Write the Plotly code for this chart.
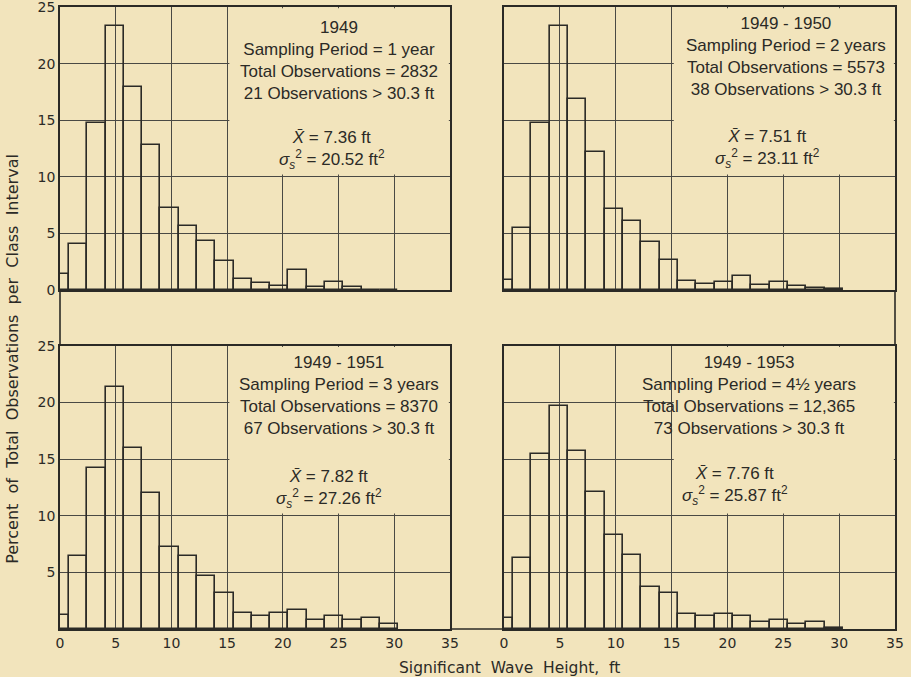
import plotly.graph_objects as go

# Class-interval edges (ft) — 0.5 m classes
edges = [0, 0.82, 2.46, 4.10, 5.74, 7.38, 9.02, 10.66, 12.30, 13.94, 15.58,
         17.22, 18.86, 20.50, 22.15, 23.79, 25.43, 27.07, 28.71, 30.35]

pct_1949 = [1.38, 4.03, 14.76, 23.3, 17.94, 12.82, 7.24, 5.65, 4.35, 2.59,
            0.97, 0.59, 0.38, 1.76, 0.29, 0.70, 0.29, 0.0, 0.0]
pct_1949_50 = [0.88, 5.44, 14.76, 23.3, 16.88, 12.15, 7.18, 6.12, 4.24, 2.62,
               0.79, 0.56, 0.68, 1.26, 0.44, 0.68, 0.35, 0.20, 0.10]
pct_1949_51 = [1.24, 6.45, 14.25, 21.4, 16.0, 12.0, 7.24, 6.48, 4.68, 3.18,
               1.41, 1.18, 1.38, 1.68, 0.82, 1.12, 0.77, 0.94, 0.41]
pct_1949_53 = [1.0, 6.27, 15.49, 19.73, 15.7, 12.07, 8.27, 6.5, 3.74, 3.21,
               1.35, 1.15, 1.35, 1.18, 0.65, 0.82, 0.47, 0.65, 0.12]

x_ticks = [0, 5, 10, 15, 20, 25, 30, 35]
y_ticks = [0, 5, 10, 15, 20, 25]

block1 = [
    "1949<br>Sampling Period = 1 year<br>Total Observations = 2832<br>21 Observations > 30.3 ft",
    "1949 - 1950<br>Sampling Period = 2 years<br>Total Observations = 5573<br>38 Observations > 30.3 ft",
    "1949 - 1951<br>Sampling Period = 3 years<br>Total Observations = 8370<br>67 Observations > 30.3 ft",
    "1949 - 1953<br>Sampling Period = 4½ years<br>Total Observations = 12,365<br>73 Observations > 30.3 ft",
]
means = ["7.36", "7.51", "7.82", "7.76"]
variances = ["20.52", "23.11", "27.26", "25.87"]

BG = "#F2E4BC"
INK = "#2b2a26"
GRID = "#4a4944"

series = [pct_1949, pct_1949_50, pct_1949_51, pct_1949_53]
centers = [(a + b) / 2 for a, b in zip(edges[:-1], edges[1:])]
widths = [b - a for a, b in zip(edges[:-1], edges[1:])]

xdom = [[0.0, 0.467], [0.5317, 1.0]]
ydom = [[0.545, 1.0], [0.0, 0.455]]

fig = go.Figure()
tick_font = dict(family="DejaVu Sans", size=14, color=INK)
text_font = dict(family="Liberation Sans, Arial, sans-serif", size=17, color=INK)

b1_pos = [(25.0, 20.3), (25.2, 20.6), (25.0, 20.6), (21.9, 20.6)]
b2_pos = [(24.4, 12.4), (23.6, 12.5), (24.1, 12.4), (20.7, 12.6)]

for i in range(4):
    r, c = divmod(i, 2)
    n = i + 1
    xa = "x" if n == 1 else f"x{n}"
    ya = "y" if n == 1 else f"y{n}"
    xkey = "xaxis" if n == 1 else f"xaxis{n}"
    ykey = "yaxis" if n == 1 else f"yaxis{n}"
    fig.add_trace(go.Bar(x=centers, y=series[i], width=widths,
                         marker=dict(color="rgba(0,0,0,0)",
                                     line=dict(color=INK, width=1.6)),
                         xaxis=xa, yaxis=ya, showlegend=False, hoverinfo="skip"))
    fig.layout[xkey] = dict(domain=xdom[c], range=[0, 35], anchor=ya,
                            tickvals=x_ticks, showticklabels=(r == 1),
                            tickfont=tick_font, ticks="", automargin=False,
                            ticklabeloverflow="allow",
                            showgrid=True, gridcolor=GRID, gridwidth=1,
                            showline=True, linecolor=INK, linewidth=1.6, mirror=True,
                            zeroline=False, fixedrange=True)
    yt = y_ticks if r == 0 else y_ticks[1:]
    fig.layout[ykey] = dict(domain=ydom[r], range=[0, 25], anchor=xa,
                            tickvals=yt, showticklabels=(c == 0),
                            tickfont=tick_font, ticks="", automargin=False,
                            ticklabeloverflow="allow",
                            showgrid=True, gridcolor=GRID, gridwidth=1,
                            showline=True, linecolor=INK, linewidth=1.6, mirror=True,
                            zeroline=False, fixedrange=True)
    # blank the grid behind the text block
    fig.add_shape(type="rect", xref=xa, yref=ya, x0=15.2, x1=34.9, y0=10.2, y1=24.9,
                  fillcolor=BG, line=dict(width=0), layer="between")
    fig.add_annotation(xref=xa, yref=ya, x=b1_pos[i][0], y=b1_pos[i][1],
                       text=block1[i], showarrow=False, align="center",
                       font=text_font, xanchor="center", yanchor="middle")
    fig.add_annotation(xref=xa, yref=ya, x=b2_pos[i][0], y=b2_pos[i][1],
                       text=f"<i>X̄</i> = {means[i]} ft<br><i>σ<sub>s</sub></i><sup>2</sup> = {variances[i]} ft<sup>2</sup>",
                       showarrow=False, align="center",
                       font=text_font, xanchor="center", yanchor="middle")

# connecting outer lines
line_style = dict(color=INK, width=1.6)
fig.add_shape(type="line", xref="paper", yref="paper", x0=0, x1=0,
              y0=ydom[1][1], y1=ydom[0][0], line=line_style)
fig.add_shape(type="line", xref="paper", yref="paper", x0=1, x1=1,
              y0=ydom[1][1], y1=ydom[0][0], line=line_style)
fig.add_shape(type="line", xref="paper", yref="paper", x0=xdom[0][1], x1=xdom[1][0],
              y0=0, y1=0, line=line_style)

fig.add_annotation(xref="paper", yref="paper", x=-0.057, y=0.435,
                   text="Percent  of  Total  Observations  per  Class  Interval",
                   textangle=-90, showarrow=False,
                   font=dict(family="DejaVu Sans", size=16, color=INK),
                   xanchor="center", yanchor="middle")
fig.add_annotation(xref="paper", yref="paper", x=0.538, y=-0.045,
                   text="Significant  Wave  Height,  ft", showarrow=False,
                   font=dict(family="DejaVu Sans", size=15.5, color=INK),
                   xanchor="center", yanchor="top")

fig.update_layout(width=911, height=677, paper_bgcolor=BG, plot_bgcolor=BG,
                  margin=dict(l=60, r=16, t=7, b=48, autoexpand=False), bargap=0,
                  showlegend=False)

fig.write_html("out.html", config={"displayModeBar": False},
               post_script="document.body.style.margin='0px';")
